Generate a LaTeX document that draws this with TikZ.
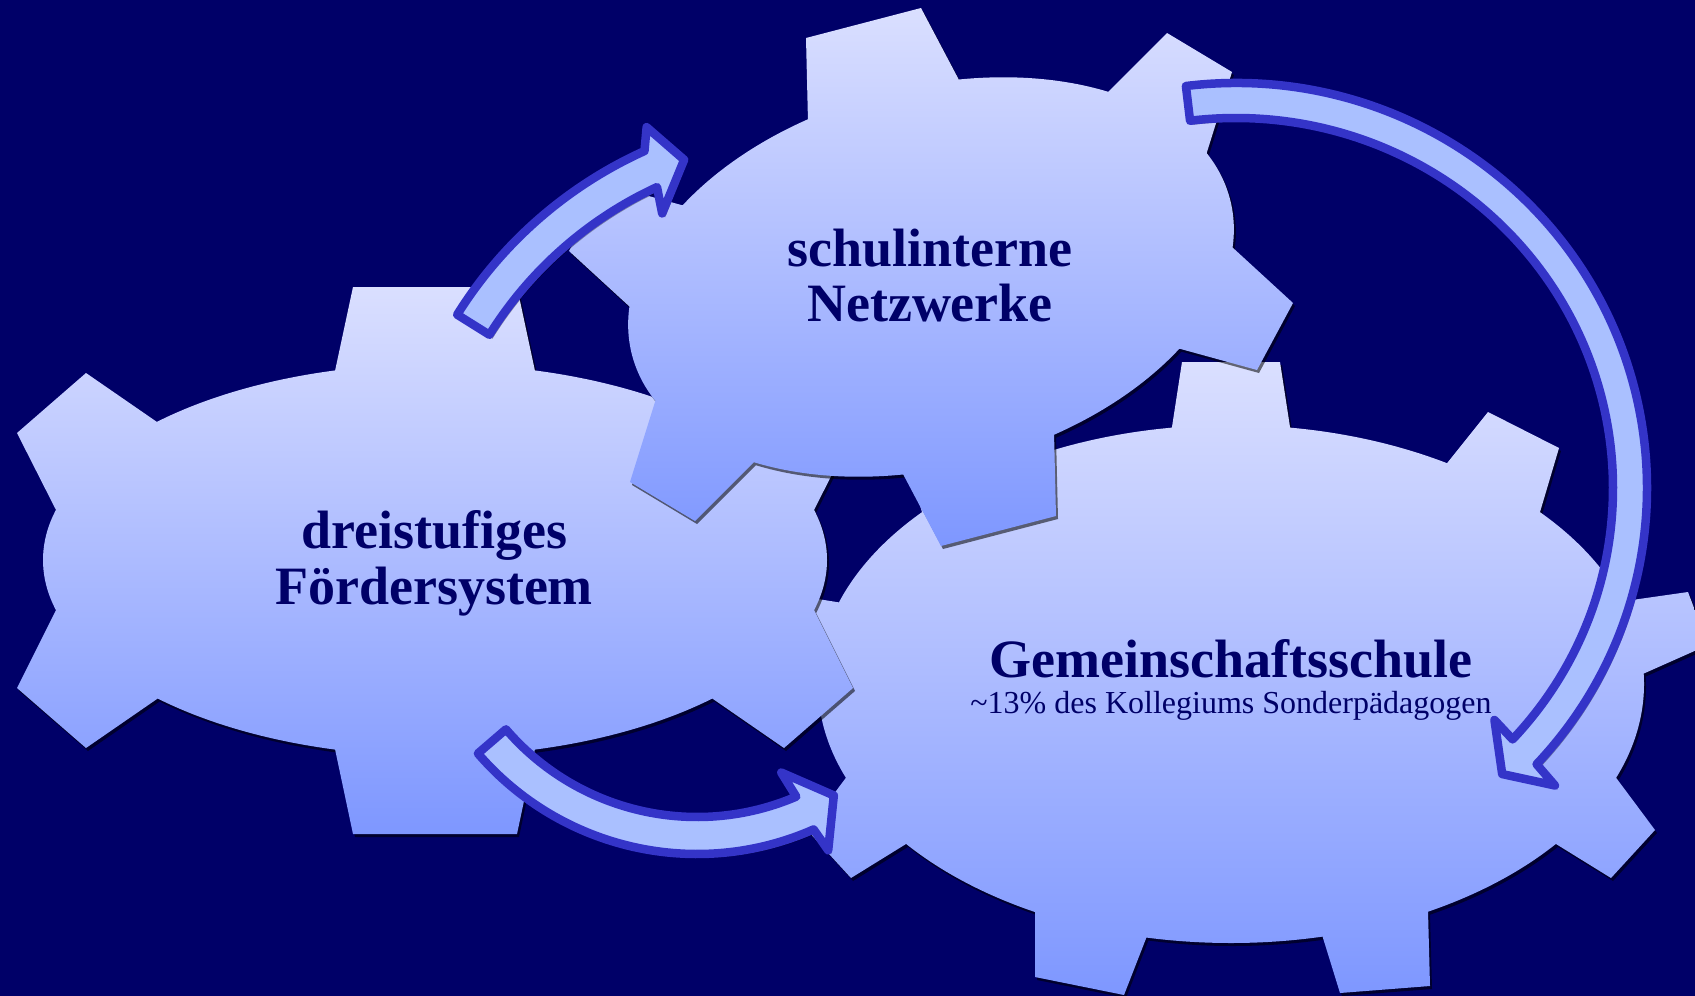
\documentclass[tikz,border=0pt]{standalone}
\usepackage{fontspec}
\setmainfont{Liberation Serif}
\usetikzlibrary{calc,shadows}

\definecolor{bgnavy}{RGB}{0,0,104}
\definecolor{gearlight}{RGB}{218,223,255}
\definecolor{gearmid}{RGB}{182,193,255}
\definecolor{geardark}{RGB}{126,151,255}
\definecolor{arrowfill}{RGB}{170,192,255}
\definecolor{arrowline}{RGB}{52,52,200}

\begin{document}
\begin{tikzpicture}[x=1pt, y=-1pt,
    gear/.style={top color=gearlight, middle color=gearmid, bottom color=geardark,
      drop shadow={shadow xshift=2pt, shadow yshift=-3pt, opacity=.55, fill=black}},
    turnarrow/.style={fill=arrowfill, draw=arrowline, line width=8.5pt, line join=round,
      drop shadow={shadow xshift=3pt, shadow yshift=-4pt, opacity=.35, fill=black}},
    gearlabel/.style={text=bgnavy, font=\bfseries\fontsize{54}{56}\selectfont, inner sep=0pt, anchor=base},
    gearnote/.style={text=bgnavy, font=\fontsize{32}{36}\selectfont, inner sep=0pt, anchor=base}]

  \useasboundingbox (0,0) rectangle (1695,996);
  \fill[bgnavy] (0,0) rectangle (1695,996);

  \begin{scope}
    \clip (0,0) rectangle (1695,996);

    % Gemeinschaftsschule
    \shade[gear] (1644,684) arc[start angle=0, end angle=360, x radius=413, y radius=259] -- cycle
      \foreach \lx/\ly/\px/\py/\qx/\qy/\rx/\ry in {
        1172/427/1182/362/1280/362/1290/427,
        1448/462/1488/412/1559/448/1540/512,
        1625/601/1688/592/1708/645/1645/673,
        1617/779/1655/830/1611/878/1556/844,
        1428/911/1430/986/1340/993/1323/938,
        1147/936/1124/995/1035/977/1035/911,
        906/844/851/878/807/830/845/779,
        817/673/757/641/774/592/824/600,
        922/512/903/448/974/412/1014/462}
      { ($(\px,\py)!1.6!(\lx,\ly)$) -- (\px,\py) -- (\qx,\qy) -- ($(\qx,\qy)!1.6!(\rx,\ry)$) -- cycle };

    % dreistufiges Foerdersystem
    \shade[gear] (827,560) arc[start angle=0, end angle=360, x radius=392, y radius=196] -- cycle
      \foreach \lx/\ly/\px/\py/\qx/\qy/\rx/\ry in {
        335/371/353/287/517/287/535/371,
        713/422/784/373/853/433/815/508,
        815/612/853/688/784/748/713/699,
        535/749/517/834/353/834/335/749,
        157/699/86/748/17/688/55/612,
        55/508/17/433/86/373/157/422}
      { ($(\px,\py)!1.6!(\lx,\ly)$) -- (\px,\py) -- (\qx,\qy) -- ($(\qx,\qy)!1.6!(\rx,\ry)$) -- cycle };

    % schulinterne Netzwerke
    \shade[gear] {[rotate around={14.6:(931,277)}] (1240,277) arc[start angle=0, end angle=360, x radius=309, y radius=190] -- cycle}
      \foreach \lx/\ly/\px/\py/\qx/\qy/\rx/\ry in {
        808/122/806/38/921/8/959/80,
        1108/92/1167/33/1232/72/1207/152,
        1232/247/1293/303/1257/370/1177/348,
        1054/432/1056/516/941/546/903/474,
        754/462/695/521/630/482/655/402,
        630/307/569/251/605/184/685/206}
      { ($(\px,\py)!1.6!(\lx,\ly)$) -- (\px,\py) -- (\qx,\qy) -- ($(\qx,\qy)!1.6!(\rx,\ry)$) -- cycle };

    \node[gearlabel] (foerdertop) at (434,548) {dreistufiges};
    \node[gearlabel] (foerderbot) at (434,604) {Fördersystem};
    \node[gearlabel] (netztop) at (930,266) {schulinterne};
    \node[gearlabel] (netzbot) at (930,321) {Netzwerke};
    \node[gearlabel] (schultitle) at (1231,677) {Gemeinschaftsschule};
    \node[gearnote] (schulnote) at (1231,713) {\textasciitilde 13\% des Kollegiums Sonderpädagogen};

    \coordinate (upc) at (821,542);
    \coordinate (lowc) at (697,565);
    \coordinate (bigc) at (1236,488);

    \draw[turnarrow] ($(upc)+(-148:429)$) arc[start angle=-148, end angle=-114.3, radius=429]
      -- ($(upc)+(-112.8:450)$) -- ($(upc)+(-109.7:406)$) -- ($(upc)+(-115.8:365)$)
      -- ($(upc)+(-114.8:391)$) arc[start angle=-114.8, end angle=-148, radius=391] -- cycle;

    \draw[turnarrow] ($(lowc)+(139.3:289)$) arc[start angle=139.3, end angle=66.2, radius=289]
      -- ($(lowc)+(65.3:314)$) -- ($(lowc)+(59.3:268)$) -- ($(lowc)+(67.9:224)$)
      -- ($(lowc)+(66.8:252)$) arc[start angle=66.8, end angle=139.3, radius=252] -- cycle;

    \draw[turnarrow] ($(bigc)+(-97:411 and 405)$) arc[start angle=-97, end angle=43, x radius=411, y radius=405]
      -- ($(bigc)+(43.4:439 and 433)$) -- ($(bigc)+(47.5:394 and 388)$) -- ($(bigc)+(42.4:350 and 344)$)
      -- ($(bigc)+(42.8:377 and 370)$) arc[start angle=42.8, end angle=-97, x radius=377, y radius=370] -- cycle;
  \end{scope}
\end{tikzpicture}
\end{document}
